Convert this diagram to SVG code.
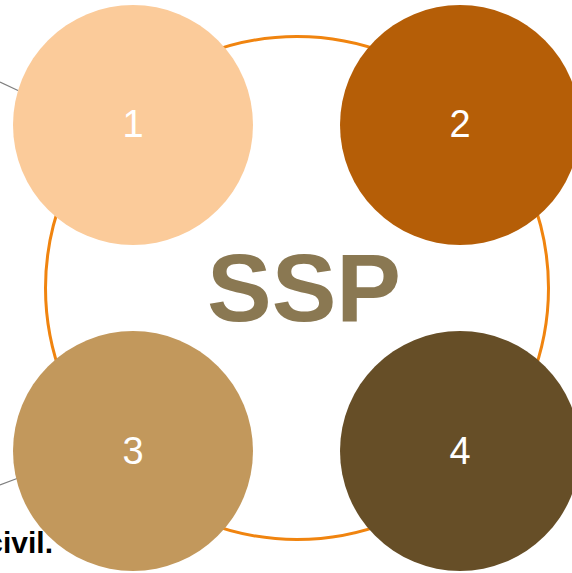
<svg xmlns="http://www.w3.org/2000/svg" width="572" height="573" viewBox="0 0 572 573">
<style>
.num{font-family:"Liberation Sans",Arial,sans-serif;font-size:38px;fill:#ffffff;text-anchor:middle}
.conn{stroke:#7f7f7f;stroke-width:1.2;fill:none}
</style>
<rect width="572" height="573" fill="#ffffff"/>
<g id="connectors">
<line class="conn" x1="0" y1="82" x2="18" y2="90.5"/>
<line class="conn" x1="0" y1="485" x2="17" y2="478.5"/>
</g>
<text x="53" y="553" font-family="Liberation Sans, Arial, sans-serif" font-size="30" font-weight="bold" fill="#000000" text-anchor="end">civil.</text>
<g id="ring">
<circle cx="297" cy="288" r="251.5" fill="none" stroke="#F0840F" stroke-width="3"/>
</g>
<g id="center">
<text x="304" y="321" font-family="Liberation Sans, Arial, sans-serif" font-size="97" font-weight="bold" fill="#8A7852" text-anchor="middle">SSP</text>
</g>
<g id="node1"><circle cx="133" cy="125" r="120" fill="#FBCB9A"/><text class="num" x="133" y="137">1</text></g>
<g id="node2"><circle cx="460" cy="125" r="120" fill="#B55E07"/><text class="num" x="460" y="137">2</text></g>
<g id="node3"><circle cx="133" cy="451" r="120" fill="#C2985C"/><text class="num" x="133" y="464">3</text></g>
<g id="node4"><circle cx="460" cy="451" r="120" fill="#664E27"/><text class="num" x="460" y="464">4</text></g>
</svg>
